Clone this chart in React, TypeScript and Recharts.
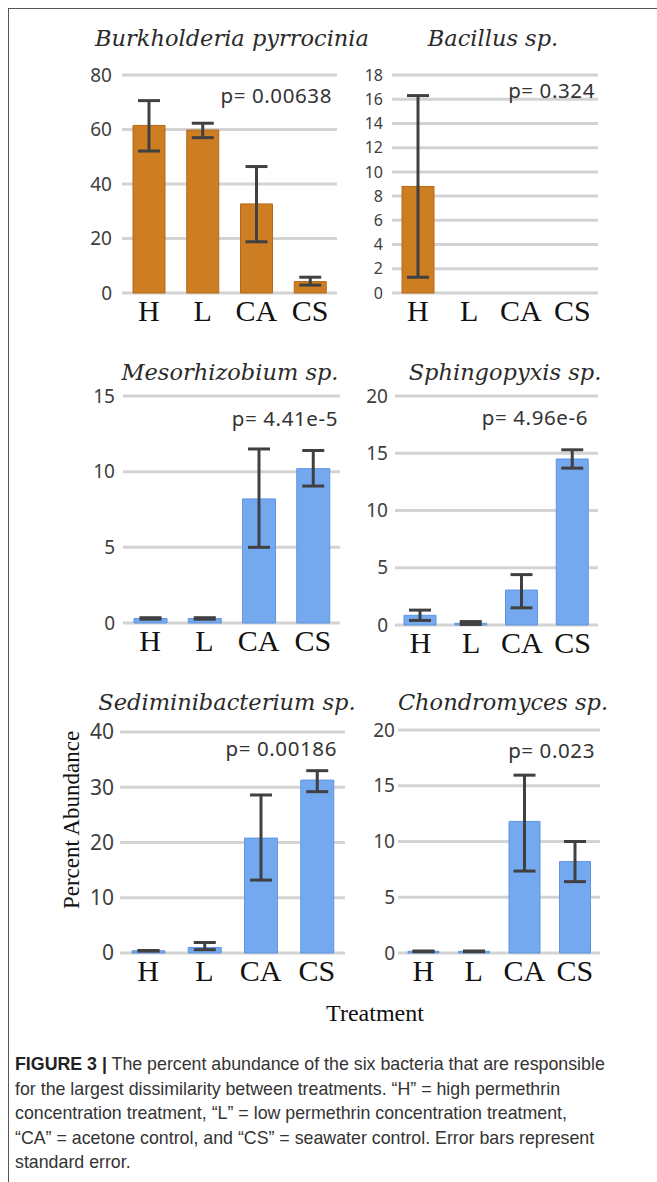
import React from 'react';
import { BarChart, Bar, XAxis, YAxis, CartesianGrid, ErrorBar } from 'recharts';

const treatments = ['H', 'L', 'CA', 'CS'];

// Burkholderia pyrrocinia
const burkMean = [61.5, 59.8, 32.7, 4.2];
const burkLow = [52.1, 57.0, 18.8, 2.9];
const burkHigh = [70.6, 62.3, 46.4, 5.8];
const burkTicks = [0, 20, 40, 60, 80];

// Bacillus sp.
const bacMean = [8.8, 0, 0, 0];
const bacLow = [1.3, null, null, null];
const bacHigh = [16.3, null, null, null];
const bacTicks = [0, 2, 4, 6, 8, 10, 12, 14, 16, 18];

// Mesorhizobium sp.
const mesoMean = [0.3, 0.3, 8.2, 10.2];
const mesoLow = [0.25, 0.25, 5.0, 9.05];
const mesoHigh = [0.35, 0.35, 11.5, 11.4];
const mesoTicks = [0, 5, 10, 15];

// Sphingopyxis sp.
const sphMean = [0.85, 0.15, 3.05, 14.5];
const sphLow = [0.4, 0.05, 1.5, 13.7];
const sphHigh = [1.3, 0.3, 4.4, 15.3];
const sphTicks = [0, 5, 10, 15, 20];

// Sediminibacterium sp.
const sedMean = [0.4, 1.0, 20.8, 31.3];
const sedLow = [0.35, 0.6, 13.2, 29.2];
const sedHigh = [0.45, 1.9, 28.6, 33.0];
const sedTicks = [0, 10, 20, 30, 40];

// Chondromyces sp.
const chonMean = [0.15, 0.15, 11.8, 8.2];
const chonLow = [0.12, 0.12, 7.35, 6.4];
const chonHigh = [0.18, 0.18, 15.95, 10.0];
const chonTicks = [0, 5, 10, 15, 20];

const captionLines = [
  'for the largest dissimilarity between treatments. \u201CH\u201D = high permethrin',
  'concentration treatment, \u201CL\u201D = low permethrin concentration treatment,',
  '\u201CCA\u201D = acetone control, and \u201CCS\u201D = seawater control. Error bars represent',
  'standard error.',
];

const ORANGE = '#CD7D22';
const ORANGE_EDGE = '#B8681A';
const BLUE = '#75A9EF';
const BLUE_EDGE = '#5F95E3';

const buildData = (mean: number[], low: (number | null)[], high: (number | null)[]) =>
  treatments.map((t, i) => ({
    name: t,
    mean: mean[i],
    err: low[i] == null ? null : [mean[i] - (low[i] as number), (high[i] as number) - mean[i]],
  }));

interface PanelProps {
  title: string;
  titleX: number;
  titleY: number;
  p: string;
  pRight: number;
  pY: number;
  data: any[];
  ticks: number[];
  box: { left: number; right: number; top: number; bottom: number };
  fill: string;
  edge: string;
  tickFont: number;
  tickGap: number;
  barSize: number;
}

const Y_W = 60;
const M_TOP = 20;
const M_RIGHT = 10;
const X_H = 50;

const Panel: React.FC<PanelProps> = ({ title, titleX, titleY, p, pRight, pY, data, ticks, box, fill, edge, tickFont, tickGap, barSize }) => {
  const w = Y_W + (box.right - box.left) + M_RIGHT;
  const h = M_TOP + (box.bottom - box.top) + X_H;
  return (
    <>
      <div style={{ position: 'absolute', left: titleX, top: titleY, transform: 'translate(-50%, -50%)', whiteSpace: 'nowrap',
        fontFamily: '"DejaVu Serif", serif', fontStyle: 'italic', fontSize: 22.5, color: '#2a2a2a' }}>{title}</div>
      <div style={{ position: 'absolute', left: box.left - Y_W, top: box.top - M_TOP }}>
        <BarChart width={w} height={h} data={data} margin={{ top: M_TOP, right: M_RIGHT, bottom: 0, left: 0 }}>
          <CartesianGrid vertical={false} stroke="#D3D3D3" strokeWidth={3} />
          <XAxis dataKey="name" axisLine={false} tickLine={false} tickSize={0} tickMargin={7} height={X_H} interval={0}
            tick={{ fill: '#111', fontSize: 30, fontFamily: '"Liberation Serif", serif' }} />
          <YAxis domain={[ticks[0], ticks[ticks.length - 1]]} ticks={ticks} interval={0} axisLine={false} tickLine={false}
            tickSize={0} tickMargin={tickGap} width={Y_W}
            tick={{ fill: '#404040', fontSize: tickFont, fontFamily: '"Noto Sans", sans-serif' }} />
          <Bar dataKey="mean" fill={fill} stroke={edge} strokeWidth={1} barSize={barSize} isAnimationActive={false}>
            <ErrorBar dataKey="err" direction="y" width={11} strokeWidth={3} stroke="#404040" />
          </Bar>
        </BarChart>
      </div>
      <div style={{ position: 'absolute', left: pRight, top: pY, transform: 'translate(-100%, -50%)', whiteSpace: 'nowrap',
        fontFamily: '"Noto Sans", sans-serif', fontSize: 20.5, color: '#333', letterSpacing: 0.6 }}>{p}</div>
    </>
  );
};

const App: React.FC = () => {
  return (
    <div style={{ position: 'absolute', left: 0, top: 0, width: 657, height: 1182, overflow: 'hidden', background: '#fff' }}>
      <div style={{ position: 'absolute', left: 8, top: 8, width: 700, height: 1200, borderLeft: '1.5px solid #555', borderTop: '1.5px solid #555' }} />

      <Panel title="Burkholderia pyrrocinia" titleX={232} titleY={38} p="p= 0.00638" pRight={332} pY={95}
        data={buildData(burkMean, burkLow, burkHigh)} ticks={burkTicks} box={{ left: 122, right: 337, top: 75, bottom: 293 }}
        fill={ORANGE} edge={ORANGE_EDGE} tickFont={19} tickGap={10} barSize={32} />
      <Panel title="Bacillus sp." titleX={493} titleY={38} p="p= 0.324" pRight={595} pY={90}
        data={buildData(bacMean, bacLow, bacHigh)} ticks={bacTicks} box={{ left: 392, right: 598, top: 75, bottom: 293 }}
        fill={ORANGE} edge={ORANGE_EDGE} tickFont={16} tickGap={9} barSize={32} />

      <Panel title="Mesorhizobium sp." titleX={230} titleY={372} p="p= 4.41e-5" pRight={338} pY={418}
        data={buildData(mesoMean, mesoLow, mesoHigh)} ticks={mesoTicks} box={{ left: 123, right: 340, top: 396, bottom: 623 }}
        fill={BLUE} edge={BLUE_EDGE} tickFont={19} tickGap={8} barSize={33} />
      <Panel title="Sphingopyxis sp." titleX={505} titleY={372} p="p= 4.96e-6" pRight={588} pY={417}
        data={buildData(sphMean, sphLow, sphHigh)} ticks={sphTicks} box={{ left: 395, right: 598, top: 396, bottom: 625 }}
        fill={BLUE} edge={BLUE_EDGE} tickFont={19} tickGap={7} barSize={32} />

      <Panel title="Sediminibacterium sp." titleX={227} titleY={702} p="p= 0.00186" pRight={337} pY={748}
        data={buildData(sedMean, sedLow, sedHigh)} ticks={sedTicks} box={{ left: 120, right: 345, top: 732, bottom: 953 }}
        fill={BLUE} edge={BLUE_EDGE} tickFont={21} tickGap={6} barSize={33} />
      <Panel title="Chondromyces sp." titleX={503} titleY={702} p="p= 0.023" pRight={595} pY={750}
        data={buildData(chonMean, chonLow, chonHigh)} ticks={chonTicks} box={{ left: 398, right: 600, top: 730, bottom: 953 }}
        fill={BLUE} edge={BLUE_EDGE} tickFont={19} tickGap={3} barSize={31} />

      <div style={{ position: 'absolute', left: 72, top: 820, transform: 'translate(-50%, -50%) rotate(-90deg)', whiteSpace: 'nowrap',
        fontFamily: '"Liberation Serif", serif', fontSize: 23, color: '#111' }}>Percent Abundance</div>
      <div style={{ position: 'absolute', left: 375, top: 1013, transform: 'translate(-50%, -50%)', whiteSpace: 'nowrap',
        fontFamily: '"Liberation Serif", serif', fontSize: 24, color: '#111' }}>Treatment</div>

      <div style={{ position: 'absolute', left: 15, top: 1052, fontFamily: '"Liberation Sans", Arial, sans-serif', fontSize: 17.8,
        lineHeight: '24.5px', color: '#333', whiteSpace: 'nowrap' }}>
        <div><span style={{ fontWeight: 700, color: '#222' }}>FIGURE 3 |</span> The percent abundance of the six bacteria that are responsible</div>
        {captionLines.map((line) => (
          <div key={line}>{line}</div>
        ))}
      </div>
    </div>
  );
};

export default App;
